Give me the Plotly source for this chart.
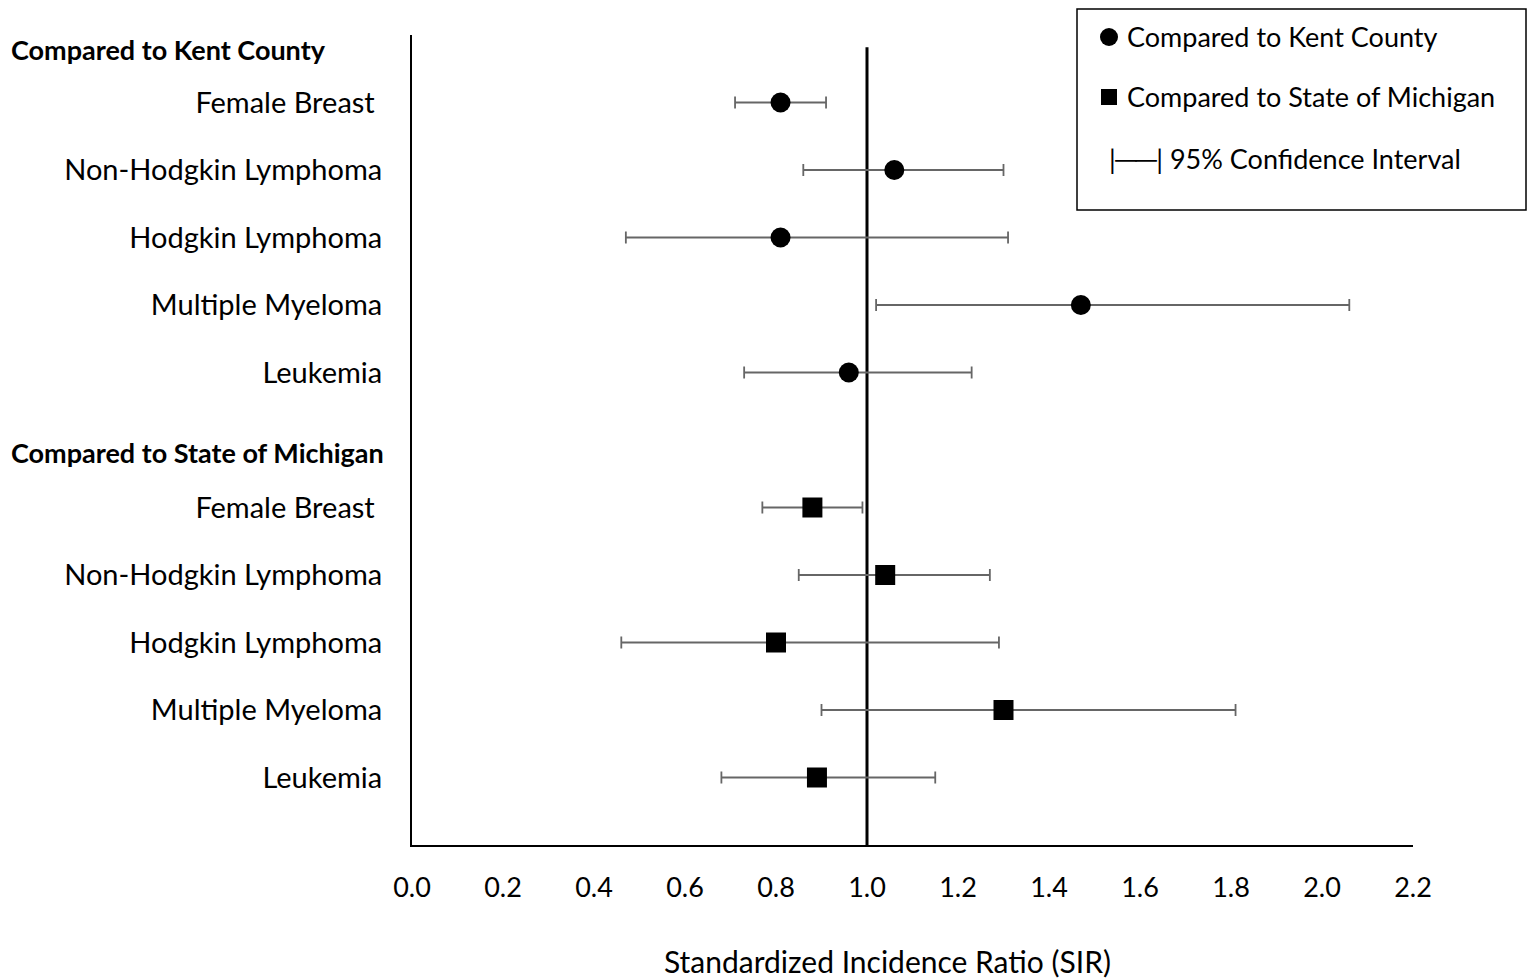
import plotly.graph_objects as go

categories = ["Female Breast", "Non-Hodgkin Lymphoma", "Hodgkin Lymphoma", "Multiple Myeloma", "Leukemia"]
group_titles = ["Compared to Kent County", "Compared to State of Michigan"]

kent_sir = [0.81, 1.06, 0.81, 1.47, 0.96]
kent_lo = [0.71, 0.86, 0.47, 1.02, 0.73]
kent_hi = [0.91, 1.30, 1.31, 2.06, 1.23]

mich_sir = [0.88, 1.04, 0.80, 1.30, 0.89]
mich_lo = [0.77, 0.85, 0.46, 0.90, 0.68]
mich_hi = [0.99, 1.27, 1.29, 1.81, 1.15]

x_ticks = [0.0, 0.2, 0.4, 0.6, 0.8, 1.0, 1.2, 1.4, 1.6, 1.8, 2.0, 2.2]

FONT = "Lato"
ERR_COLOR = "#666666"

kent_y = [1, 2, 3, 4, 5]
mich_y = [7, 8, 9, 10, 11]

# page offset from default body margin
OFF = 8
PL, PR, PT, PB = 412, 1413, 35, 845  # plot area in page pixels
FIG_W = 1536 - OFF
FIG_H = 980 - OFF

fig = go.Figure()


def add_series(sir, lo, hi, ys, symbol, name):
    fig.add_trace(go.Scatter(
        x=sir, y=ys, mode="markers", name=name,
        marker=dict(symbol=symbol, size=20, color="black", line=dict(width=0)),
        error_x=dict(type="data", symmetric=False,
                     array=[h - s for h, s in zip(hi, sir)],
                     arrayminus=[s - l for s, l in zip(sir, lo)],
                     color=ERR_COLOR, thickness=1.8, width=6),
        showlegend=False,
    ))


# reference line at SIR = 1.0
fig.add_shape(type="line", xref="x", yref="y", x0=1.0, x1=1.0, y0=0.18, y1=12,
              line=dict(color="black", width=3), layer="below")

add_series(kent_sir, kent_lo, kent_hi, kent_y, "circle", group_titles[0])
add_series(mich_sir, mich_lo, mich_hi, mich_y, "square", group_titles[1])

fig.update_xaxes(range=[0, 2.2], tickvals=x_ticks,
                 ticktext=[f"{v:.1f}" for v in x_ticks],
                 showgrid=False, zeroline=False, showline=True,
                 linecolor="black", linewidth=1.5, ticks="",
                 ticklabelstandoff=18,
                 tickfont=dict(family=FONT, size=27, color="black"))

fig.update_yaxes(range=[12, 0], tickvals=kent_y + mich_y,
                 ticktext=[c if c != "Female Breast" else "Female Breast\u00a0" for c in categories] * 2,
                 showgrid=False, zeroline=False, showline=True,
                 linecolor="black", linewidth=2, ticks="",
                 ticklabelstandoff=22,
                 tickfont=dict(family=FONT, size=29, color="black"))


def px_x(px):
    return (px - PL) / (PR - PL)


def px_y(py):
    return (PB - py) / (PB - PT)


# axis title
fig.add_annotation(text="Standardized Incidence Ratio (SIR)", xref="paper", yref="paper",
                   x=px_x(887), y=px_y(961), xanchor="center", yanchor="middle",
                   showarrow=False, font=dict(family=FONT, size=30, color="black"))

# group headers
for title, yv in zip(group_titles, [0.22, 6.19]):
    fig.add_annotation(text=f"<b>{title}</b>", xref="paper", yref="y",
                       x=px_x(9), y=yv, xanchor="left", yanchor="middle",
                       showarrow=False, font=dict(family=FONT, size=27, color="black"))

# legend box
fig.add_shape(type="rect", xref="paper", yref="paper",
              x0=px_x(1077), x1=px_x(1526), y0=px_y(210), y1=px_y(9),
              line=dict(color="black", width=1.5), fillcolor="white", layer="above")
fig.add_shape(type="circle", xref="paper", yref="paper", xsizemode="pixel", ysizemode="pixel",
              xanchor=px_x(1109), yanchor=px_y(37), x0=-9, x1=9, y0=-9, y1=9,
              fillcolor="black", line=dict(width=0), layer="above")
fig.add_shape(type="rect", xref="paper", yref="paper", xsizemode="pixel", ysizemode="pixel",
              xanchor=px_x(1109), yanchor=px_y(97), x0=-8, x1=8, y0=-8, y1=8,
              fillcolor="black", line=dict(width=0), layer="above")
legend_items = [(group_titles[0], 1125, 37), (group_titles[1], 1125, 97),
                ("|\u2500\u2500| 95% Confidence Interval", 1107, 158)]
for text, lx, ly in legend_items:
    fig.add_annotation(text=text, xref="paper", yref="paper", x=px_x(lx), y=px_y(ly),
                       xanchor="left", yanchor="middle", showarrow=False,
                       font=dict(family=FONT, size=27, color="black"))

fig.update_layout(width=FIG_W, height=FIG_H, autosize=False,
                  margin=dict(l=PL - OFF, r=1536 - PR, t=PT - OFF, b=FIG_H + OFF - PB),
                  plot_bgcolor="white", paper_bgcolor="white",
                  showlegend=False)

fig.write_html("out.html", config={"displayModeBar": False})
